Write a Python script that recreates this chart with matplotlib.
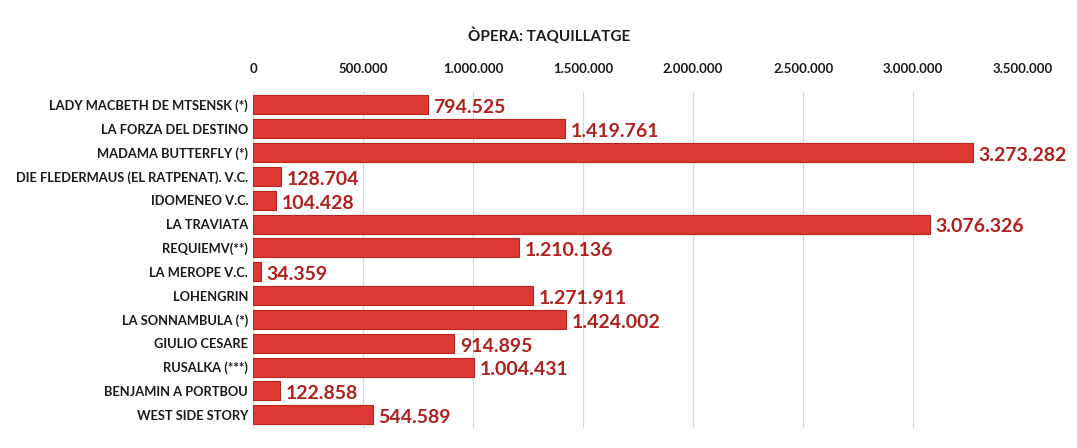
import matplotlib.pyplot as plt
from matplotlib.ticker import FuncFormatter

titols = [
    "LADY MACBETH DE MTSENSK (*)",
    "LA FORZA DEL DESTINO",
    "MADAMA BUTTERFLY (*)",
    "DIE FLEDERMAUS (EL RATPENAT). V.C.",
    "IDOMENEO V.C.",
    "LA TRAVIATA",
    "REQUIEMV(**)",
    "LA MEROPE V.C.",
    "LOHENGRIN",
    "LA SONNAMBULA (*)",
    "GIULIO CESARE",
    "RUSALKA (***)",
    "BENJAMIN A PORTBOU",
    "WEST SIDE STORY",
]
taquillatge = [794525, 1419761, 3273282, 128704, 104428, 3076326, 1210136,
               34359, 1271911, 1424002, 914895, 1004431, 122858, 544589]
ticks = [0, 500000, 1000000, 1500000, 2000000, 2500000, 3000000, 3500000]


def punts(v):
    return f"{int(v):,}".replace(",", ".")


plt.rcParams['font.family'] = ['Lato', 'DejaVu Sans']

fig = plt.figure(figsize=(10.77, 4.48), dpi=100)
ax = fig.add_axes([0.235, 0.045, 0.715, 0.75])

y = range(len(titols))
ax.barh(y, taquillatge, height=0.8, color="#dc3a32", edgecolor="#b8241e", linewidth=0.8, zorder=3)

for i, v in enumerate(taquillatge):
    ax.text(v + 25000, i + 0.12, punts(v), va="center", ha="left",
            fontsize=14, fontweight="bold", color="#b0201c", zorder=4)

ax.set_xlim(0, 3500000)
ax.set_ylim(len(titols) - 0.45, -0.55)
ax.set_xticks(ticks)
ax.xaxis.set_major_formatter(FuncFormatter(lambda v, p: punts(v)))
ax.xaxis.tick_top()
ax.set_yticks(list(y))
ax.set_yticklabels(titols, fontsize=9.3)
ax.tick_params(axis="both", length=0, colors="#1a1a1a")
ax.tick_params(axis="x", pad=12, labelsize=9.5)
for lab in ax.get_xticklabels() + ax.get_yticklabels():
    lab.set_fontweight("bold")
ax.grid(axis="x", color="#d9d9d9", linewidth=0.9, zorder=0)
for s in ax.spines.values():
    s.set_visible(False)

fig.text(0.51, 0.92, "ÒPERA: TAQUILLATGE", ha="center", va="center",
         fontsize=11, fontweight="bold", color="#1a1a1a")

fig.savefig("out.png", dpi=100)
